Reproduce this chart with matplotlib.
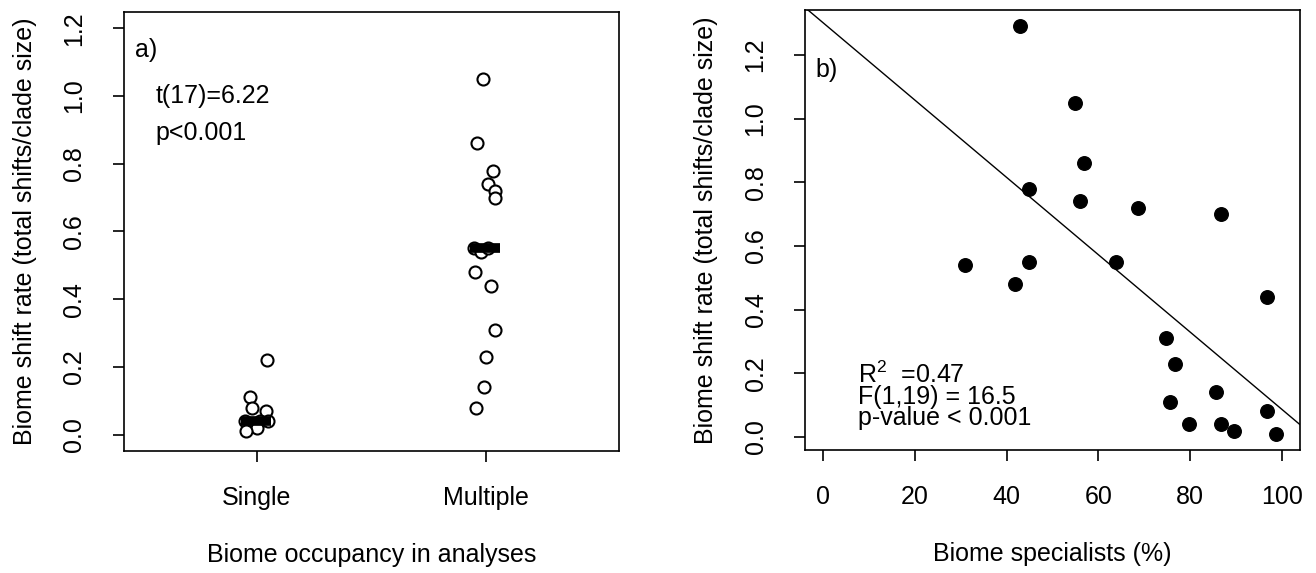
import numpy as np
import matplotlib
matplotlib.use('Agg')
import matplotlib.pyplot as plt

plt.rcParams['font.family'] = ['Liberation Sans', 'DejaVu Sans']
plt.rcParams['mathtext.fontset'] = 'custom'
plt.rcParams['mathtext.rm'] = 'Liberation Sans'
plt.rcParams['font.size'] = 18

# Panel a: biome shift rate by biome occupancy
groups = ['Single', 'Multiple']
single_rate = [0.22, 0.11, 0.08, 0.07, 0.04, 0.04, 0.04, 0.02, 0.01]
single_jit = [0.044, -0.029, -0.022, 0.039, -0.051, 0.015, 0.05, 0.0, -0.046]
multiple_rate = [1.05, 0.86, 0.78, 0.74, 0.72, 0.70, 0.55, 0.54, 0.55,
                 0.48, 0.44, 0.31, 0.23, 0.14, 0.08]
multiple_jit = [-0.014, -0.039, 0.029, 0.009, 0.039, 0.039, -0.054, -0.024,
                0.009, -0.049, 0.022, 0.039, -0.001, -0.009, -0.045]

# Panel b: biome specialists (%) vs shift rate
specialists = [42.8, 54.9, 56.9, 44.8, 55.9, 68.7, 86.7, 30.9, 44.8, 63.8, 41.9,
               96.7, 74.7, 76.7, 85.6, 75.7, 96.7, 79.7, 86.7, 89.7, 98.7]
shift_rate = [1.29, 1.05, 0.86, 0.78, 0.74, 0.72, 0.70, 0.54, 0.55, 0.55, 0.48,
              0.44, 0.31, 0.23, 0.14, 0.11, 0.08, 0.04, 0.04, 0.02, 0.01]

fig = plt.figure(figsize=(13.16, 5.73), dpi=100)
ax1 = fig.add_axes([124/1316, 1-451/573, 495/1316, 439/573])
ax2 = fig.add_axes([805/1316, 1-450/573, 495/1316, 440/573])

# --- panel a
for i, (vals, jit) in enumerate([(single_rate, single_jit), (multiple_rate, multiple_jit)]):
    xpos = i + 1 + np.array(jit)
    ax1.scatter(xpos, vals, s=75, facecolors='white', edgecolors='black', linewidths=1.5, zorder=3)
    med = np.median(vals)
    ax1.hlines(med, i + 1 - 0.07, i + 1 + 0.06, colors='black', linewidth=7, zorder=4)

ax1.set_xlim(0.42, 2.58)
ax1.set_ylim(-0.048, 1.248)
ax1.set_xticks([1, 2])
ax1.set_xticklabels(groups)
ax1.set_yticks(np.arange(0, 1.21, 0.2))
ax1.set_yticklabels([f'{v:.1f}' for v in np.arange(0, 1.21, 0.2)], rotation=90, va='center')
ax1.set_xlabel('Biome occupancy in analyses')
ax1.set_ylabel('Biome shift rate (total shifts/clade size)')
ax1.text(0.47, 1.135, 'a)', va='center', ha='left')
ax1.text(0.556, 1.0, 't(17)=6.22', va='center', ha='left')
ax1.text(0.556, 0.89, 'p<0.001', va='center', ha='left')

# --- panel b
ax2.scatter(specialists, shift_rate, s=95, color='black', zorder=3)
slope, icpt = np.polyfit(specialists, shift_rate, 1)
ax2.axline((0, icpt), slope=slope, color='black', linewidth=1.0)
ax2.set_xlim(-4, 104)
ax2.set_ylim(-0.041, 1.341)
ax2.set_xticks(np.arange(0, 101, 20))
ax2.set_yticks(np.arange(0, 1.21, 0.2))
ax2.set_yticklabels([f'{v:.1f}' for v in np.arange(0, 1.21, 0.2)], rotation=90, va='center')
ax2.set_xlabel('Biome specialists (%)')
ax2.set_ylabel('Biome shift rate (total shifts/clade size)')
ax2.text(-1.7, 1.152, 'b)', va='center', ha='left')
ax2.text(7.6, 0.13, 'R$^2$  =0.47\nF(1,19) = 16.5\np-value < 0.001',
         va='center', ha='left', linespacing=0.85)

for ax in (ax1, ax2):
    for sp in ax.spines.values():
        sp.set_linewidth(1.2)
    ax.tick_params(length=8, width=1.2, labelsize=18)
    ax.tick_params(axis='x', pad=17)
    ax.tick_params(axis='y', pad=19)
    ax.yaxis.set_label_coords(-0.2, 0.5)
    ax.xaxis.set_label_coords(0.5, -0.237)
    ax.xaxis.label.set_va('center')
    ax.yaxis.label.set_va('center')

fig.savefig('out.png', dpi=100)
